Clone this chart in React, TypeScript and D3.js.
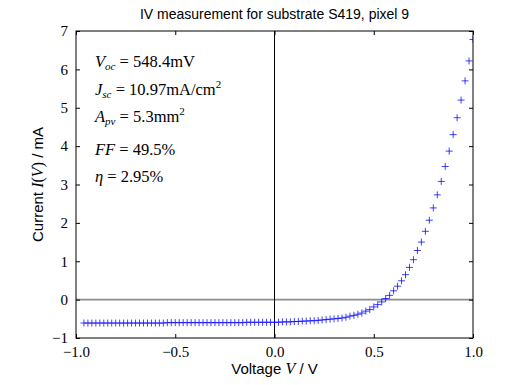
import React, { useRef, useEffect } from "react";
import * as d3 from "d3";

// sampled voltages (V)
const voltages = [
  -0.96, -0.94, -0.92, -0.9, -0.88, -0.86, -0.84, -0.82, -0.8, -0.78,
  -0.76, -0.74, -0.72, -0.7, -0.68, -0.66, -0.64, -0.62, -0.6, -0.58,
  -0.56, -0.54, -0.52, -0.5, -0.48, -0.46, -0.44, -0.42, -0.4, -0.38,
  -0.36, -0.34, -0.32, -0.3, -0.28, -0.26, -0.24, -0.22, -0.2, -0.18,
  -0.16, -0.14, -0.12, -0.1, -0.08, -0.06, -0.04, -0.02, 0.0, 0.02,
  0.04, 0.06, 0.08, 0.1, 0.12, 0.14, 0.16, 0.18, 0.2, 0.22,
  0.24, 0.26, 0.28, 0.3, 0.32, 0.34, 0.36, 0.38, 0.4, 0.42,
  0.44, 0.46, 0.48, 0.5, 0.52, 0.54, 0.56, 0.58, 0.6, 0.62,
  0.64, 0.66, 0.68, 0.7, 0.72, 0.74, 0.76, 0.78, 0.8, 0.82,
  0.84, 0.86, 0.88, 0.9, 0.92, 0.94, 0.96, 0.98, 1.0,
];

// measured current (mA)
const currents = [
  -0.61, -0.61, -0.61, -0.61, -0.61, -0.61, -0.61, -0.61, -0.61, -0.61,
  -0.61, -0.61, -0.61, -0.61, -0.61, -0.61, -0.61, -0.61, -0.61, -0.61,
  -0.61, -0.6, -0.6, -0.6, -0.6, -0.6, -0.6, -0.6, -0.6, -0.6,
  -0.6, -0.6, -0.6, -0.6, -0.6, -0.6, -0.6, -0.6, -0.6, -0.6,
  -0.6, -0.59, -0.59, -0.59, -0.59, -0.59, -0.59, -0.59, -0.59, -0.59,
  -0.58, -0.58, -0.58, -0.57, -0.57, -0.56, -0.56, -0.55, -0.55, -0.54,
  -0.53, -0.52, -0.51, -0.5, -0.49, -0.48, -0.46, -0.43, -0.41, -0.38,
  -0.35, -0.3, -0.26, -0.19, -0.13, -0.06, 0.03, 0.11, 0.23, 0.35,
  0.49, 0.65, 0.84, 1.04, 1.28, 1.5, 1.78, 2.07, 2.39, 2.73,
  3.08, 3.47, 3.87, 4.3, 4.74, 5.2, 5.7, 6.22, 6.78,
];

const xTicks = [-1.0, -0.5, 0.0, 0.5, 1.0];
const yTicks = [-1, 0, 1, 2, 3, 4, 5, 6, 7];

const title = "IV measurement for substrate S419, pixel 9";

const SERIF = "'Liberation Serif', 'DejaVu Serif', serif";
const SANS = "'Liberation Sans', Arial, sans-serif";

const fmtNum = (v: number, digits: number) =>
  (v < 0 ? "\u2212" : "") + Math.abs(v).toFixed(digits);

const App = () => {
  const svgRef = useRef<SVGSVGElement>(null);

  useEffect(() => {
    const svg = d3.select(svgRef.current);
    svg.selectAll("*").remove();

    const width = 513;
    const height = 385;
    const margin = { top: 31, right: 40, bottom: 47, left: 76 };
    const innerWidth = width - margin.left - margin.right;
    const innerHeight = height - margin.top - margin.bottom;

    const x = d3.scaleLinear().domain([-1, 1]).range([0, innerWidth]);
    const y = d3.scaleLinear().domain([-1, 7]).range([innerHeight, 0]);

    const g = svg
      .append("g")
      .attr("transform", `translate(${margin.left},${margin.top})`);

    const clipId = "plot-clip";
    svg
      .append("defs")
      .append("clipPath")
      .attr("id", clipId)
      .append("rect")
      .attr("width", innerWidth)
      .attr("height", innerHeight);

    // zero lines
    g.append("line")
      .attr("x1", 0)
      .attr("x2", innerWidth)
      .attr("y1", y(0))
      .attr("y2", y(0))
      .attr("stroke", "#8c8c8c")
      .attr("stroke-width", 1.6);

    g.append("line")
      .attr("x1", x(0))
      .attr("x2", x(0))
      .attr("y1", 0)
      .attr("y2", innerHeight)
      .attr("stroke", "#000")
      .attr("stroke-width", 1);

    // plus markers
    const data = voltages.map((v, i) => ({ v, c: currents[i] }));
    const s = 3.5;
    g.append("g")
      .attr("clip-path", `url(#${clipId})`)
      .selectAll("path")
      .data(data)
      .join("path")
      .attr(
        "d",
        (d) =>
          `M${x(d.v) - s},${y(d.c)}h${2 * s}M${x(d.v)},${y(d.c) - s}v${2 * s}`
      )
      .attr("stroke", "#0000ff")
      .attr("stroke-opacity", 0.75)
      .attr("stroke-width", 1)
      .attr("fill", "none");

    // axes (ticks inward on all sides)
    const styleAxis = (sel: any) => {
      sel.select(".domain").remove();
      sel.selectAll("line").attr("stroke", "#000");
      sel
        .selectAll("text")
        .attr("font-family", SERIF)
        .attr("font-size", 15)
        .attr("fill", "#000");
    };

    g.append("g")
      .attr("transform", `translate(0,${innerHeight})`)
      .call(
        d3
          .axisBottom(x)
          .tickValues(xTicks)
          .tickSize(-4)
          .tickPadding(8)
          .tickFormat((d: any) => fmtNum(d, 1))
      )
      .call(styleAxis);

    g.append("g")
      .call(
        d3
          .axisTop(x)
          .tickValues(xTicks)
          .tickSize(-4)
          .tickFormat(() => "")
      )
      .call(styleAxis);

    g.append("g")
      .call(
        d3
          .axisLeft(y)
          .tickValues(yTicks)
          .tickSize(-4)
          .tickPadding(8)
          .tickFormat((d: any) => fmtNum(d, 0))
      )
      .call(styleAxis);

    g.append("g")
      .attr("transform", `translate(${innerWidth},0)`)
      .call(
        d3
          .axisRight(y)
          .tickValues(yTicks)
          .tickSize(-4)
          .tickFormat(() => "")
      )
      .call(styleAxis);

    // frame
    g.append("rect")
      .attr("width", innerWidth)
      .attr("height", innerHeight)
      .attr("fill", "none")
      .attr("stroke", "#000")
      .attr("stroke-width", 1);

    // title
    svg
      .append("text")
      .attr("x", margin.left + innerWidth / 2)
      .attr("y", 19)
      .attr("text-anchor", "middle")
      .attr("font-family", SANS)
      .attr("font-size", 14)
      .text(title);

    // x label
    const xl = svg
      .append("text")
      .attr("x", margin.left + innerWidth / 2)
      .attr("y", 374)
      .attr("text-anchor", "middle")
      .attr("font-family", SANS)
      .attr("font-size", 15);
    xl.append("tspan").text("Voltage ");
    xl.append("tspan")
      .attr("font-family", SERIF)
      .attr("font-style", "italic")
      .attr("font-size", 16)
      .text("V");
    xl.append("tspan").text(" / V");

    // y label
    const yl = svg
      .append("text")
      .attr("transform", `translate(43,${margin.top + innerHeight / 2}) rotate(-90)`)
      .attr("text-anchor", "middle")
      .attr("font-family", SANS)
      .attr("font-size", 15);
    yl.append("tspan").text("Current ");
    yl.append("tspan")
      .attr("font-family", SERIF)
      .attr("font-style", "italic")
      .attr("font-size", 16)
      .text("I");
    yl.append("tspan").attr("font-family", SERIF).attr("font-size", 16).text("(");
    yl.append("tspan")
      .attr("font-family", SERIF)
      .attr("font-style", "italic")
      .attr("font-size", 16)
      .text("V");
    yl.append("tspan").attr("font-family", SERIF).attr("font-size", 16).text(")");
    yl.append("tspan").text(" / mA");

    // annotations
    const notes = [
      { sym: "V", sub: "oc", rest: " = 548.4mV", sup: "", yPos: 67 },
      { sym: "J", sub: "sc", rest: " = 10.97mA/cm", sup: "2", yPos: 95 },
      { sym: "A", sub: "pv", rest: " = 5.3mm", sup: "2", yPos: 122 },
      { sym: "FF", sub: "", rest: " = 49.5%", sup: "", yPos: 155 },
      { sym: "\u03b7", sub: "", rest: " = 2.95%", sup: "", yPos: 182 },
    ];
    notes.forEach((n) => {
      const t = svg
        .append("text")
        .attr("x", 95)
        .attr("y", n.yPos)
        .attr("font-family", SERIF)
        .attr("font-size", 16.5);
      t.append("tspan").attr("font-style", "italic").text(n.sym);
      if (n.sub) {
        t.append("tspan")
          .attr("font-style", "italic")
          .attr("font-size", 11)
          .attr("dy", 3)
          .text(n.sub);
        t.append("tspan").attr("dy", -3).text(n.rest);
      } else {
        t.append("tspan").text(n.rest);
      }
      if (n.sup) {
        t.append("tspan").attr("font-size", 11).attr("dy", -7).text(n.sup);
      }
    });
  }, []);

  return (
    <svg
      ref={svgRef}
      width={513}
      height={385}
      style={{ position: "absolute", left: 0, top: 0, background: "#fff" }}
    />
  );
};

export default App;
